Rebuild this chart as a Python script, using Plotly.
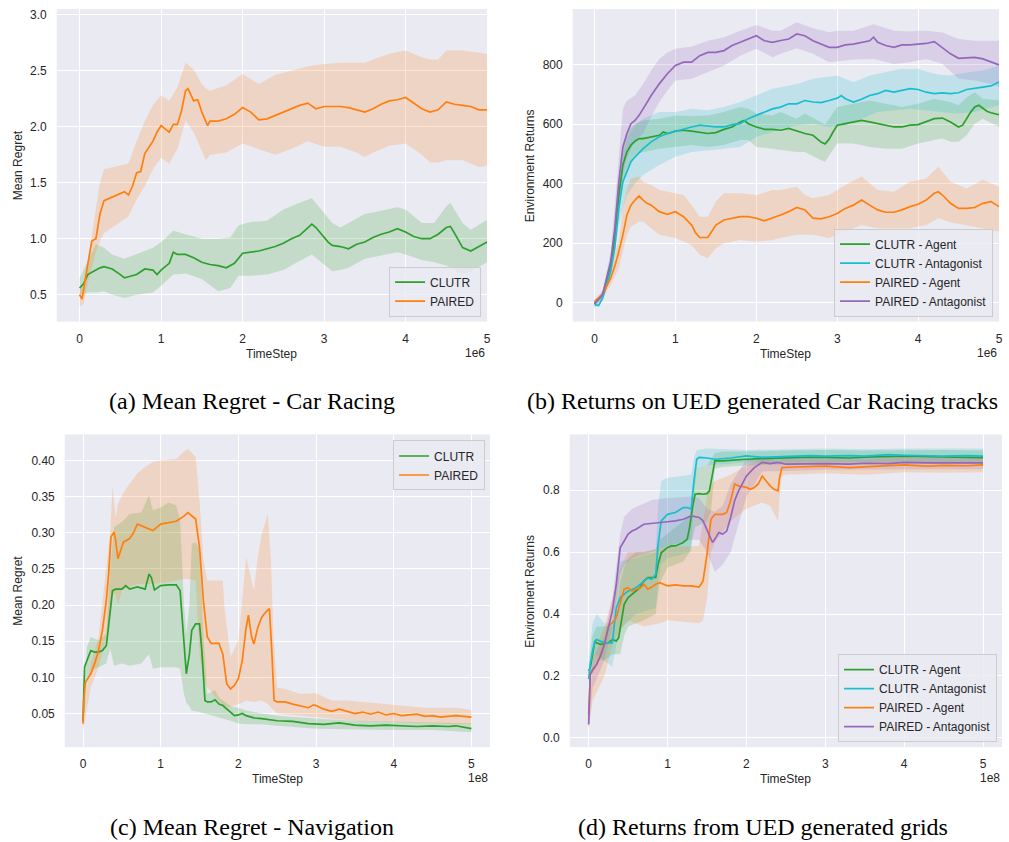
import plotly.graph_objects as go

# ---------------- Panel (a): Mean Regret - Car Racing (x in units of 1e6) ----------------
a_clutr_x = [0, 0.05, 0.1, 0.2, 0.25, 0.3, 0.4, 0.5, 0.55, 0.6, 0.7, 0.8, 0.9, 0.95, 1.0, 1.1, 1.15, 1.2, 1.3, 1.4,
             1.5, 1.6, 1.7, 1.8, 1.9, 2.0, 2.1, 2.2, 2.3, 2.4, 2.5, 2.6, 2.7, 2.8, 2.85, 2.9, 3.0, 3.05, 3.1, 3.2,
             3.3, 3.4, 3.5, 3.6, 3.7, 3.8, 3.9, 4.0, 4.1, 4.2, 4.3, 4.4, 4.5, 4.55, 4.6, 4.7, 4.8, 4.9, 5.0]
a_clutr_mean = [0.56, 0.6, 0.68, 0.72, 0.74, 0.75, 0.73, 0.68, 0.65, 0.66, 0.68, 0.73, 0.72, 0.68, 0.72, 0.78, 0.88, 0.86, 0.86, 0.83,
                0.79, 0.77, 0.76, 0.74, 0.78, 0.87, 0.88, 0.89, 0.91, 0.93, 0.96, 1.0, 1.03, 1.1, 1.13, 1.10, 1.01, 0.97, 0.94, 0.93,
                0.91, 0.95, 0.97, 1.01, 1.04, 1.06, 1.09, 1.06, 1.02, 1.0, 1.0, 1.04, 1.10, 1.11, 1.05, 0.92, 0.89, 0.93, 0.97]
a_clutr_band_x = [0, 0.1, 0.2, 0.3, 0.4, 0.55, 0.7, 0.9, 1.0, 1.15, 1.3, 1.5, 1.7, 1.85, 1.95, 2.1, 2.3, 2.5, 2.7, 2.85,
                  3.0, 3.1, 3.2, 3.3, 3.5, 3.7, 3.9, 4.0, 4.2, 4.35, 4.5, 4.55, 4.7, 4.8, 5.0]
a_clutr_upper = [0.65, 0.8, 0.95, 0.92, 0.86, 0.82, 0.86, 0.92, 0.97, 1.07, 1.04, 1.0, 1.0, 1.01, 1.12, 1.15, 1.16, 1.26, 1.32, 1.36,
                 1.23, 1.14, 1.1, 1.14, 1.22, 1.25, 1.28, 1.26, 1.14, 1.14, 1.29, 1.32, 1.14, 1.08, 1.17]
a_clutr_lower = [0.5, 0.52, 0.52, 0.53, 0.5, 0.47, 0.5, 0.52, 0.58, 0.68, 0.69, 0.64, 0.53, 0.56, 0.67, 0.67, 0.68, 0.72, 0.8, 0.86,
                 0.77, 0.71, 0.72, 0.74, 0.82, 0.85, 0.88, 0.86, 0.81, 0.79, 0.76, 0.74, 0.68, 0.71, 0.79]

a_paired_x = [0, 0.03, 0.1, 0.15, 0.2, 0.25, 0.3, 0.4, 0.5, 0.55, 0.6, 0.65, 0.7, 0.75, 0.8, 0.9, 0.95, 1.0, 1.05, 1.1,
              1.15, 1.2, 1.25, 1.3, 1.33, 1.4, 1.45, 1.5, 1.57, 1.6, 1.7, 1.8, 1.9, 2.0, 2.1, 2.2, 2.3, 2.4, 2.5, 2.6,
              2.7, 2.8, 2.9, 3.0, 3.1, 3.2, 3.3, 3.4, 3.5, 3.6, 3.7, 3.8, 3.9, 4.0, 4.1, 4.2, 4.3, 4.4, 4.5, 4.6,
              4.7, 4.8, 4.9, 5.0]
a_paired_mean = [0.5, 0.46, 0.77, 0.98, 1.0, 1.22, 1.34, 1.37, 1.4, 1.42, 1.39, 1.47, 1.59, 1.6, 1.76, 1.87, 1.95, 2.01, 1.98, 1.95,
                 2.02, 2.02, 2.14, 2.32, 2.34, 2.23, 2.24, 2.13, 2.01, 2.05, 2.05, 2.07, 2.11, 2.17, 2.13, 2.06, 2.07, 2.10, 2.13, 2.16,
                 2.19, 2.21, 2.16, 2.18, 2.18, 2.18, 2.17, 2.15, 2.13, 2.16, 2.2, 2.23, 2.24, 2.26, 2.21, 2.16, 2.13, 2.15, 2.22, 2.2,
                 2.19, 2.18, 2.15, 2.15]
a_paired_band_x = [0, 0.05, 0.1, 0.2, 0.25, 0.3, 0.5, 0.6, 0.7, 0.8, 0.9, 1.0, 1.1, 1.2, 1.3, 1.4, 1.5, 1.55, 1.6, 1.8,
                   2.0, 2.2, 2.4, 2.6, 2.8, 3.0, 3.2, 3.4, 3.5, 3.6, 3.8, 4.0, 4.2, 4.3, 4.4, 4.5, 4.7, 4.9, 5.0]
a_paired_upper = [0.55, 0.6, 0.8, 1.25, 1.5, 1.62, 1.65, 1.67, 1.87, 2.05, 2.19, 2.28, 2.23, 2.35, 2.57, 2.51, 2.38, 2.34, 2.32, 2.37,
                  2.47, 2.38, 2.46, 2.5, 2.54, 2.56, 2.57, 2.57, 2.57, 2.6, 2.65, 2.68, 2.62, 2.6, 2.6, 2.68, 2.68, 2.66, 2.65]
a_paired_lower = [0.39, 0.42, 0.6, 0.88, 0.98, 1.05, 1.15, 1.2, 1.35, 1.47, 1.62, 1.72, 1.67, 1.8, 2.05, 1.95, 1.78, 1.70, 1.75, 1.77,
                  1.85, 1.8, 1.75, 1.8, 1.87, 1.82, 1.82, 1.77, 1.73, 1.77, 1.83, 1.85, 1.75, 1.68, 1.68, 1.70, 1.70, 1.64, 1.65]

# ---------------- Panel (b): Returns on UED generated Car Racing tracks (x in 1e6) ----------------
b_cagent_x = [0, 0.1, 0.2, 0.25, 0.3, 0.35, 0.4, 0.45, 0.5, 0.55, 0.6, 0.7, 0.8, 0.85, 0.9, 1.0, 1.1, 1.2, 1.3, 1.4,
              1.5, 1.6, 1.7, 1.8, 1.85, 1.9, 2.0, 2.1, 2.2, 2.3, 2.4, 2.5, 2.6, 2.7, 2.75, 2.8, 2.85, 2.9, 2.95, 3.0,
              3.1, 3.2, 3.3, 3.4, 3.5, 3.6, 3.7, 3.8, 3.9, 4.0, 4.1, 4.2, 4.3, 4.4, 4.5, 4.55, 4.65, 4.7, 4.75, 4.85,
              4.9, 5.0]
b_cagent_mean = [-1, 27, 127, 217, 362, 463, 507, 530, 543, 552, 552, 558, 563, 574, 569, 577, 580, 577, 574, 569,
                 572, 583, 591, 608, 613, 602, 591, 583, 583, 580, 586, 577, 569, 563, 552, 540, 534, 550, 575, 597,
                 602, 608, 613, 608, 602, 597, 591, 591, 597, 599, 610, 619, 621, 608, 591, 597, 641, 658, 664, 644,
                 639, 632]
b_cagent_band_x = [0, 0.1, 0.2, 0.3, 0.35, 0.4, 0.5, 0.6, 0.8, 1.0, 1.2, 1.4, 1.6, 1.8, 1.9, 2.0, 2.2, 2.3, 2.5, 2.6,
                   2.8, 2.85, 2.9, 3.0, 3.2, 3.4, 3.6, 3.8, 4.0, 4.2, 4.3, 4.4, 4.5, 4.6, 4.7, 4.8, 5.0]
b_cagent_upper = [5, 35, 140, 390, 518, 574, 602, 613, 619, 630, 628, 630, 641, 658, 652, 636, 630, 641, 619, 636,
                  608, 600, 619, 658, 669, 680, 669, 658, 669, 686, 680, 675, 664, 690, 708, 686, 680]
b_cagent_lower = [-10, 20, 110, 330, 396, 451, 496, 507, 518, 524, 530, 524, 530, 547, 547, 524, 518, 513, 507, 507,
                  479, 474, 496, 535, 535, 524, 518, 518, 535, 547, 552, 541, 541, 563, 602, 619, 591]

b_cant_x = [0, 0.05, 0.1, 0.2, 0.25, 0.3, 0.35, 0.4, 0.45, 0.5, 0.6, 0.7, 0.8, 0.9, 1.0, 1.1, 1.2, 1.3, 1.4, 1.5,
            1.6, 1.7, 1.8, 1.9, 2.0, 2.1, 2.2, 2.3, 2.4, 2.5, 2.6, 2.7, 2.8, 2.9, 3.0, 3.05, 3.1, 3.2, 3.3, 3.4,
            3.5, 3.6, 3.7, 3.8, 3.9, 4.0, 4.1, 4.2, 4.3, 4.4, 4.5, 4.6, 4.7, 4.8, 4.9, 5.0]
b_cant_mean = [-7, -10, 16, 105, 183, 317, 407, 440, 474, 490, 518, 541, 558, 569, 577, 585, 591, 597, 593, 591,
               591, 599, 602, 619, 630, 641, 652, 658, 669, 669, 680, 675, 673, 680, 688, 697, 686, 675, 684, 697,
               703, 714, 708, 714, 720, 717, 708, 703, 706, 703, 706, 717, 720, 725, 729, 742]
b_cant_band_x = [0, 0.1, 0.2, 0.3, 0.35, 0.4, 0.5, 0.6, 0.8, 1.0, 1.2, 1.4, 1.6, 1.8, 2.0, 2.2, 2.3, 2.5, 2.7, 2.9,
                 3.0, 3.1, 3.2, 3.3, 3.4, 3.5, 3.6, 3.7, 3.8, 3.9, 4.0, 4.1, 4.2, 4.3, 4.4, 4.5, 4.6, 4.7, 4.8, 4.9,
                 5.0]
b_cant_upper = [-2, 25, 120, 370, 496, 552, 597, 619, 641, 641, 652, 647, 658, 675, 697, 720, 725, 736, 753, 759,
                764, 752, 742, 752, 764, 770, 775, 780, 787, 785, 787, 778, 770, 766, 764, 770, 775, 778, 781, 790,
                798]
b_cant_lower = [-18, 5, 90, 260, 317, 362, 401, 429, 463, 491, 507, 513, 518, 524, 558, 574, 585, 597, 602, 591,
                594, 597, 608, 619, 630, 641, 644, 647, 650, 652, 650, 647, 644, 641, 638, 636, 638, 641, 650, 658,
                664]

b_pagent_x = [0, 0.1, 0.2, 0.25, 0.3, 0.35, 0.4, 0.45, 0.5, 0.55, 0.6, 0.65, 0.7, 0.8, 0.9, 1.0, 1.1, 1.2, 1.25, 1.3,
              1.4, 1.45, 1.5, 1.6, 1.7, 1.8, 1.9, 2.0, 2.1, 2.2, 2.3, 2.4, 2.5, 2.6, 2.7, 2.8, 2.9, 3.0, 3.1, 3.2,
              3.3, 3.4, 3.5, 3.6, 3.7, 3.8, 3.9, 4.0, 4.1, 4.2, 4.25, 4.3, 4.4, 4.5, 4.6, 4.7, 4.8, 4.9, 5.0]
b_pagent_mean = [4, 27, 83, 122, 172, 228, 295, 328, 345, 359, 345, 334, 328, 306, 297, 306, 289, 261, 234, 219,
                 219, 239, 261, 278, 284, 289, 289, 284, 275, 284, 295, 306, 320, 312, 284, 282, 289, 300, 317, 328,
                 345, 328, 312, 304, 304, 312, 323, 331, 345, 368, 373, 362, 334, 317, 317, 320, 334, 340, 323]
b_pagent_band_x = [0, 0.1, 0.2, 0.3, 0.35, 0.4, 0.45, 0.55, 0.6, 0.7, 0.8, 1.0, 1.1, 1.2, 1.3, 1.4, 1.5, 1.6, 1.8, 2.0,
                   2.2, 2.3, 2.5, 2.6, 2.7, 2.9, 3.1, 3.3, 3.5, 3.7, 3.9, 4.1, 4.25, 4.4, 4.6, 4.8, 5.0]
b_pagent_upper = [10, 40, 110, 217, 317, 384, 418, 424, 407, 396, 379, 368, 362, 328, 289, 289, 340, 368, 368, 362,
                  379, 379, 390, 362, 351, 362, 396, 424, 379, 373, 407, 418, 457, 407, 384, 413, 390]
b_pagent_lower = [-5, 15, 60, 116, 172, 228, 255, 272, 272, 250, 228, 217, 205, 194, 161, 150, 183, 200, 211, 205,
                  211, 217, 228, 228, 228, 217, 239, 261, 250, 250, 250, 261, 284, 270, 261, 250, 239]

b_pant_x = [0, 0.1, 0.2, 0.25, 0.3, 0.35, 0.4, 0.45, 0.5, 0.55, 0.6, 0.7, 0.8, 0.9, 1.0, 1.1, 1.2, 1.3, 1.4, 1.5,
            1.6, 1.7, 1.8, 1.9, 2.0, 2.1, 2.2, 2.3, 2.4, 2.5, 2.6, 2.7, 2.8, 2.9, 3.0, 3.1, 3.2, 3.3, 3.4, 3.45,
            3.5, 3.6, 3.7, 3.8, 3.9, 4.0, 4.1, 4.2, 4.3, 4.4, 4.5, 4.6, 4.7, 4.8, 4.9, 5.0]
b_pant_mean = [-5, 27, 140, 250, 407, 524, 569, 602, 613, 630, 652, 697, 736, 770, 798, 809, 809, 831, 842, 842,
               848, 865, 876, 887, 898, 881, 876, 882, 887, 904, 898, 881, 870, 859, 859, 867, 870, 876, 881, 893,
               876, 865, 859, 867, 867, 870, 872, 878, 859, 837, 822, 823, 825, 820, 809, 800]
b_pant_band_x = [0, 0.1, 0.2, 0.3, 0.35, 0.4, 0.5, 0.6, 0.7, 0.8, 0.9, 1.0, 1.2, 1.4, 1.6, 1.8, 2.0, 2.2, 2.3, 2.5,
                 2.7, 2.9, 3.0, 3.2, 3.45, 3.7, 3.9, 4.0, 4.1, 4.3, 4.5, 4.7, 4.9, 5.0]
b_pant_upper = [5, 40, 170, 507, 652, 680, 697, 736, 781, 820, 842, 854, 862, 881, 893, 915, 934, 915, 915, 943,
                923, 910, 915, 915, 937, 915, 912, 915, 915, 909, 887, 881, 881, 881]
b_pant_lower = [-15, 15, 110, 295, 429, 485, 546, 569, 625, 675, 714, 747, 753, 775, 798, 831, 854, 826, 837, 856,
                837, 809, 812, 818, 820, 803, 809, 815, 820, 803, 753, 747, 736, 725]

# ---------------- Panel (c): Mean Regret - Navigation (x in 1e8) ----------------
c_clutr_x = [0, 0.02, 0.05, 0.1, 0.15, 0.2, 0.25, 0.3, 0.33, 0.38, 0.42, 0.5, 0.55, 0.6, 0.7, 0.8, 0.85, 0.88, 0.92, 1.0,
             1.1, 1.2, 1.25, 1.3, 1.33, 1.37, 1.4, 1.45, 1.5, 1.53, 1.57, 1.6, 1.65, 1.7, 1.75, 1.8, 1.85, 1.9, 1.95, 2.0,
             2.05, 2.1, 2.2, 2.3, 2.4, 2.5, 2.7, 2.9, 3.1, 3.3, 3.5, 3.7, 3.9, 4.1, 4.3, 4.5, 4.7, 4.8, 5.0]
c_clutr_mean = [0.04, 0.114, 0.123, 0.137, 0.135, 0.135, 0.137, 0.144, 0.172, 0.22, 0.222, 0.222, 0.227, 0.222, 0.225, 0.222, 0.243, 0.238, 0.221, 0.227,
                0.228, 0.228, 0.22, 0.151, 0.105, 0.132, 0.165, 0.174, 0.174, 0.137, 0.068, 0.066, 0.066, 0.069, 0.063, 0.061, 0.056, 0.052, 0.047, 0.048,
                0.05, 0.047, 0.044, 0.043, 0.041, 0.04, 0.039, 0.036, 0.035, 0.037, 0.034, 0.033, 0.034, 0.033, 0.032, 0.033, 0.032, 0.033, 0.029]
c_clutr_band_x = [0, 0.05, 0.1, 0.2, 0.3, 0.35, 0.4, 0.5, 0.6, 0.75, 0.85, 0.9, 1.0, 1.1, 1.2, 1.25, 1.3, 1.33, 1.37, 1.4,
                  1.45, 1.5, 1.55, 1.6, 1.7, 1.75, 1.8, 1.9, 2.0, 2.1, 2.3, 2.5, 3.0, 3.5, 4.0, 4.5, 5.0]
c_clutr_upper = [0.05, 0.142, 0.156, 0.151, 0.16, 0.252, 0.308, 0.315, 0.326, 0.328, 0.352, 0.331, 0.335, 0.342, 0.338, 0.317, 0.2, 0.16, 0.2, 0.285,
                 0.287, 0.278, 0.16, 0.077, 0.082, 0.072, 0.068, 0.06, 0.058, 0.054, 0.05, 0.047, 0.043, 0.04, 0.039, 0.038, 0.036]
c_clutr_lower = [0.03, 0.09, 0.11, 0.114, 0.119, 0.14, 0.116, 0.119, 0.116, 0.119, 0.132, 0.112, 0.114, 0.114, 0.114, 0.112, 0.077, 0.065, 0.06, 0.054,
                 0.053, 0.052, 0.051, 0.05, 0.047, 0.045, 0.043, 0.04, 0.036, 0.035, 0.035, 0.033, 0.029, 0.028, 0.027, 0.027, 0.024]

c_paired_x = [0, 0.01, 0.03, 0.1, 0.15, 0.2, 0.25, 0.3, 0.33, 0.36, 0.4, 0.42, 0.45, 0.48, 0.52, 0.6, 0.65, 0.7, 0.8, 0.9,
              1.0, 1.1, 1.2, 1.3, 1.35, 1.45, 1.5, 1.55, 1.6, 1.65, 1.75, 1.8, 1.85, 1.9, 1.95, 2.0, 2.05, 2.1, 2.13, 2.17,
              2.2, 2.25, 2.3, 2.35, 2.4, 2.43, 2.46, 2.5, 2.6, 2.7, 2.8, 2.9, 2.97, 3.0, 3.1, 3.2, 3.3, 3.4, 3.5, 3.6,
              3.7, 3.8, 3.9, 4.0, 4.1, 4.2, 4.3, 4.4, 4.5, 4.6, 4.7, 4.8, 4.9, 5.0]
c_paired_mean = [0.036, 0.068, 0.093, 0.105, 0.119, 0.137, 0.165, 0.206, 0.243, 0.294, 0.301, 0.29, 0.264, 0.273, 0.287, 0.292, 0.3, 0.312, 0.308, 0.303,
                 0.312, 0.314, 0.316, 0.323, 0.328, 0.319, 0.28, 0.206, 0.156, 0.147, 0.147, 0.132, 0.091, 0.084, 0.089, 0.098, 0.123, 0.169, 0.186, 0.156,
                 0.146, 0.169, 0.183, 0.19, 0.195, 0.137, 0.068, 0.066, 0.066, 0.063, 0.061, 0.058, 0.062, 0.061, 0.056, 0.053, 0.056, 0.053, 0.05, 0.052,
                 0.049, 0.052, 0.048, 0.05, 0.047, 0.048, 0.049, 0.046, 0.047, 0.045, 0.046, 0.047, 0.046, 0.045]
c_paired_band_x = [0, 0.1, 0.2, 0.3, 0.35, 0.38, 0.42, 0.45, 0.5, 0.6, 0.7, 0.8, 0.9, 1.0, 1.1, 1.2, 1.3, 1.35, 1.45, 1.5,
                   1.55, 1.6, 1.8, 1.82, 1.9, 2.0, 2.05, 2.1, 2.15, 2.2, 2.25, 2.3, 2.38, 2.42, 2.45, 2.5, 2.6, 2.8, 3.0, 3.2,
                   3.4, 3.6, 3.8, 4.0, 4.2, 4.4, 4.6, 4.8, 5.0]
c_paired_upper = [0.05, 0.119, 0.156, 0.252, 0.30, 0.365, 0.32, 0.34, 0.352, 0.368, 0.382, 0.391, 0.398, 0.4, 0.401, 0.402, 0.412, 0.416, 0.405, 0.345,
                  0.262, 0.234, 0.234, 0.197, 0.128, 0.151, 0.206, 0.266, 0.243, 0.22, 0.266, 0.298, 0.326, 0.262, 0.16, 0.086, 0.084, 0.077, 0.078, 0.068,
                  0.068, 0.066, 0.064, 0.063, 0.061, 0.058, 0.058, 0.058, 0.055]
c_paired_lower = [0.026, 0.086, 0.114, 0.156, 0.19, 0.215, 0.215, 0.2, 0.22, 0.225, 0.229, 0.229, 0.229, 0.23, 0.232, 0.234, 0.236, 0.236, 0.234, 0.132,
                  0.1, 0.086, 0.061, 0.06, 0.059, 0.063, 0.065, 0.068, 0.067, 0.066, 0.067, 0.068, 0.063, 0.059, 0.055, 0.05, 0.05, 0.048, 0.045, 0.043,
                  0.041, 0.039, 0.039, 0.039, 0.038, 0.037, 0.036, 0.035, 0.035]

# ---------------- Panel (d): Returns from UED generated grids (x in 1e8) ----------------
d_cagent_x = [0, 0.02, 0.05, 0.08, 0.1, 0.15, 0.2, 0.25, 0.3, 0.35, 0.38, 0.4, 0.45, 0.5, 0.55, 0.6, 0.65, 0.7, 0.75, 0.8,
              0.85, 0.88, 0.92, 1.0, 1.05, 1.1, 1.15, 1.2, 1.25, 1.28, 1.32, 1.35, 1.4, 1.45, 1.5, 1.53, 1.57, 1.6, 1.7, 1.8,
              2.0, 2.2, 2.5, 2.8, 3.0, 3.3, 3.5, 3.8, 4.0, 4.3, 4.5, 4.8, 5.0]
d_cagent_mean = [0.216, 0.226, 0.27, 0.313, 0.307, 0.302, 0.304, 0.307, 0.318, 0.313, 0.323, 0.356, 0.431, 0.453, 0.464, 0.474, 0.485, 0.507, 0.518, 0.518,
                 0.518, 0.56, 0.598, 0.615, 0.62, 0.62, 0.625, 0.631, 0.642, 0.68, 0.75, 0.787, 0.789, 0.787, 0.789, 0.798, 0.852, 0.895, 0.895, 0.897,
                 0.9, 0.902, 0.905, 0.907, 0.906, 0.904, 0.907, 0.909, 0.91, 0.908, 0.907, 0.906, 0.905]
d_cagent_band_x = [0, 0.05, 0.1, 0.2, 0.3, 0.35, 0.4, 0.45, 0.5, 0.6, 0.7, 0.85, 0.9, 1.0, 1.2, 1.28, 1.35, 1.5, 1.55, 1.6,
                   1.7, 2.0, 2.5, 3.0, 3.5, 4.0, 4.5, 5.0]
d_cagent_upper = [0.22, 0.33, 0.36, 0.36, 0.36, 0.4, 0.5, 0.55, 0.58, 0.6, 0.6, 0.61, 0.64, 0.66, 0.7, 0.72, 0.87, 0.88, 0.9, 0.92,
                  0.925, 0.925, 0.928, 0.93, 0.928, 0.93, 0.93, 0.928]
d_cagent_lower = [0.17, 0.22, 0.25, 0.25, 0.27, 0.27, 0.27, 0.33, 0.36, 0.37, 0.38, 0.4, 0.5, 0.55, 0.57, 0.6, 0.68, 0.7, 0.73, 0.87,
                  0.875, 0.88, 0.883, 0.885, 0.883, 0.886, 0.885, 0.884]

d_cant_x = [0, 0.02, 0.05, 0.08, 0.1, 0.15, 0.2, 0.25, 0.3, 0.33, 0.35, 0.4, 0.45, 0.5, 0.6, 0.7, 0.75, 0.8, 0.85, 0.88,
            0.92, 1.0, 1.1, 1.2, 1.25, 1.3, 1.33, 1.37, 1.4, 1.5, 1.6, 1.8, 2.0, 2.2, 2.5, 2.8, 3.0, 3.3, 3.5, 3.8,
            4.0, 4.3, 4.5, 4.8, 5.0]
d_cant_mean = [0.19, 0.237, 0.28, 0.313, 0.318, 0.313, 0.307, 0.307, 0.307, 0.377, 0.42, 0.453, 0.464, 0.474, 0.485, 0.507, 0.516, 0.512, 0.528, 0.625,
               0.701, 0.722, 0.728, 0.744, 0.744, 0.739, 0.82, 0.9, 0.906, 0.904, 0.9, 0.904, 0.911, 0.906, 0.91, 0.912, 0.91, 0.912, 0.91, 0.915,
               0.913, 0.912, 0.91, 0.912, 0.91]
d_cant_band_x = [0, 0.05, 0.1, 0.2, 0.3, 0.35, 0.4, 0.6, 0.85, 0.88, 0.92, 1.0, 1.3, 1.33, 1.37, 1.5, 2.0, 2.5, 3.0, 3.5,
                 4.0, 4.5, 5.0]
d_cant_upper = [0.25, 0.37, 0.4, 0.37, 0.37, 0.52, 0.57, 0.58, 0.6, 0.75, 0.83, 0.84, 0.85, 0.9, 0.93, 0.935, 0.93, 0.932, 0.935, 0.932,
                0.935, 0.935, 0.935]
d_cant_lower = [0.15, 0.25, 0.27, 0.25, 0.23, 0.3, 0.35, 0.4, 0.42, 0.5, 0.56, 0.58, 0.6, 0.75, 0.87, 0.88, 0.89, 0.89, 0.89, 0.89,
                0.892, 0.89, 0.888]

d_pagent_x = [0, 0.02, 0.05, 0.1, 0.15, 0.2, 0.25, 0.3, 0.35, 0.4, 0.45, 0.5, 0.55, 0.6, 0.65, 0.7, 0.75, 0.8, 0.85, 0.9,
              1.0, 1.1, 1.2, 1.3, 1.4, 1.45, 1.5, 1.55, 1.6, 1.7, 1.75, 1.8, 1.85, 1.9, 1.95, 2.0, 2.05, 2.1, 2.15, 2.2,
              2.25, 2.3, 2.35, 2.4, 2.42, 2.45, 2.6, 2.8, 3.0, 3.3, 3.5, 3.8, 4.0, 4.3, 4.5, 4.8, 5.0]
d_pagent_mean = [0.075, 0.205, 0.216, 0.237, 0.27, 0.302, 0.361, 0.372, 0.388, 0.431, 0.48, 0.485, 0.474, 0.48, 0.483, 0.496, 0.48, 0.487, 0.496, 0.501,
                 0.491, 0.494, 0.491, 0.491, 0.487, 0.507, 0.593, 0.706, 0.722, 0.722, 0.728, 0.766, 0.82, 0.814, 0.811, 0.809, 0.803, 0.809, 0.82, 0.846,
                 0.83, 0.814, 0.803, 0.798, 0.84, 0.873, 0.875, 0.877, 0.878, 0.873, 0.876, 0.879, 0.882, 0.878, 0.88, 0.879, 0.882]
d_pagent_band_x = [0, 0.05, 0.1, 0.2, 0.3, 0.4, 0.5, 0.7, 0.9, 1.0, 1.4, 1.45, 1.5, 1.55, 1.6, 1.8, 2.0, 2.2, 2.3, 2.4,
                   2.42, 2.45, 2.5, 3.0, 3.5, 4.0, 4.5, 5.0]
d_pagent_upper = [0.1, 0.25, 0.3, 0.36, 0.45, 0.55, 0.6, 0.6, 0.61, 0.617, 0.62, 0.7, 0.78, 0.82, 0.83, 0.85, 0.88, 0.9, 0.9, 0.89,
                  0.89, 0.9, 0.9, 0.9, 0.9, 0.905, 0.905, 0.905]
d_pagent_lower = [0.03, 0.12, 0.15, 0.2, 0.3, 0.35, 0.38, 0.36, 0.37, 0.38, 0.37, 0.38, 0.45, 0.6, 0.63, 0.7, 0.74, 0.76, 0.75, 0.7,
                  0.78, 0.845, 0.85, 0.855, 0.85, 0.858, 0.856, 0.858]

d_pant_x = [0, 0.02, 0.05, 0.1, 0.15, 0.2, 0.25, 0.3, 0.35, 0.38, 0.4, 0.45, 0.5, 0.55, 0.6, 0.7, 0.8, 0.9, 1.0, 1.1,
            1.2, 1.3, 1.4, 1.45, 1.5, 1.55, 1.57, 1.6, 1.65, 1.7, 1.75, 1.8, 1.85, 1.9, 1.95, 2.0, 2.1, 2.2, 2.3, 2.4,
            2.5, 2.8, 3.0, 3.3, 3.5, 3.8, 4.0, 4.3, 4.5, 4.8, 5.0]
d_pant_mean = [0.043, 0.205, 0.221, 0.237, 0.264, 0.302, 0.356, 0.41, 0.496, 0.582, 0.615, 0.636, 0.658, 0.668, 0.674, 0.69, 0.692, 0.695, 0.698, 0.701,
               0.706, 0.717, 0.712, 0.701, 0.674, 0.647, 0.631, 0.642, 0.663, 0.658, 0.668, 0.712, 0.766, 0.798, 0.82, 0.846, 0.873, 0.89, 0.886, 0.89,
               0.884, 0.886, 0.886, 0.884, 0.887, 0.886, 0.89, 0.888, 0.888, 0.887, 0.888]
d_pant_band_x = [0, 0.05, 0.1, 0.2, 0.3, 0.35, 0.4, 0.45, 0.55, 0.8, 1.0, 1.3, 1.4, 1.5, 1.6, 1.7, 1.8, 2.0, 2.2, 2.5,
                 3.0, 3.5, 4.0, 4.5, 5.0]
d_pant_upper = [0.07, 0.25, 0.28, 0.33, 0.45, 0.55, 0.66, 0.714, 0.74, 0.768, 0.775, 0.78, 0.775, 0.74, 0.73, 0.75, 0.82, 0.9, 0.91, 0.905,
                0.905, 0.905, 0.908, 0.905, 0.905]
d_pant_lower = [0.02, 0.16, 0.19, 0.25, 0.36, 0.44, 0.53, 0.56, 0.58, 0.6, 0.62, 0.64, 0.64, 0.6, 0.536, 0.56, 0.6, 0.78, 0.86, 0.862,
                0.866, 0.866, 0.868, 0.868, 0.868]

# ---------------- labels ----------------
two_series = ["CLUTR", "PAIRED"]
four_series = ["CLUTR - Agent", "CLUTR - Antagonist", "PAIRED - Agent", "PAIRED - Antagonist"]
captions = ["(a) Mean Regret - Car Racing", "(b) Returns on UED generated Car Racing tracks",
            "(c) Mean Regret - Navigation", "(d) Returns from UED generated grids"]
x_ticks = [0, 1, 2, 3, 4, 5]

GREEN, CYAN, ORANGE, PURPLE = "#2ca02c", "#17becf", "#ff7f0e", "#9467bd"
FILLS = {GREEN: "rgba(44,160,44,0.2)", CYAN: "rgba(23,190,207,0.2)",
         ORANGE: "rgba(255,127,14,0.2)", PURPLE: "rgba(148,103,189,0.2)"}

W, H = 1009, 842
SANS = "Liberation Sans, Arial, sans-serif"
SERIF = "Liberation Serif, Times New Roman, serif"
TXT = "#262626"

fig = go.Figure()

panels = [
    ("", "legend", [
        (two_series[0], GREEN, a_clutr_x, a_clutr_mean, a_clutr_band_x, a_clutr_upper, a_clutr_lower),
        (two_series[1], ORANGE, a_paired_x, a_paired_mean, a_paired_band_x, a_paired_upper, a_paired_lower)]),
    ("2", "legend2", [
        (four_series[0], GREEN, b_cagent_x, b_cagent_mean, b_cagent_band_x, b_cagent_upper, b_cagent_lower),
        (four_series[1], CYAN, b_cant_x, b_cant_mean, b_cant_band_x, b_cant_upper, b_cant_lower),
        (four_series[2], ORANGE, b_pagent_x, b_pagent_mean, b_pagent_band_x, b_pagent_upper, b_pagent_lower),
        (four_series[3], PURPLE, b_pant_x, b_pant_mean, b_pant_band_x, b_pant_upper, b_pant_lower)]),
    ("3", "legend3", [
        (two_series[0], GREEN, c_clutr_x, c_clutr_mean, c_clutr_band_x, c_clutr_upper, c_clutr_lower),
        (two_series[1], ORANGE, c_paired_x, c_paired_mean, c_paired_band_x, c_paired_upper, c_paired_lower)]),
    ("4", "legend4", [
        (four_series[0], GREEN, d_cagent_x, d_cagent_mean, d_cagent_band_x, d_cagent_upper, d_cagent_lower),
        (four_series[1], CYAN, d_cant_x, d_cant_mean, d_cant_band_x, d_cant_upper, d_cant_lower),
        (four_series[2], ORANGE, d_pagent_x, d_pagent_mean, d_pagent_band_x, d_pagent_upper, d_pagent_lower),
        (four_series[3], PURPLE, d_pant_x, d_pant_mean, d_pant_band_x, d_pant_upper, d_pant_lower)]),
]

for suffix, leg, series in panels:
    xa, ya = "x" + suffix, "y" + suffix
    for name, col, x, m, bx, up, lo in series:
        fig.add_trace(go.Scatter(
            x=list(bx) + list(bx)[::-1], y=list(up) + list(lo)[::-1],
            fill="toself", fillcolor=FILLS[col], line=dict(width=0), mode="lines",
            hoverinfo="skip", showlegend=False, xaxis=xa, yaxis=ya))
    for name, col, x, m, bx, up, lo in series:
        fig.add_trace(go.Scatter(
            x=x, y=m, mode="lines", name=name, line=dict(color=col, width=1.7),
            legend=leg, xaxis=xa, yaxis=ya))

boxes = [(57, 489, 8, 321), (575, 1003, 8, 321), (65, 492, 434, 747), (572, 1006, 434, 747)]
xranges = [[-0.28, 5.0], [-0.27, 5.0], [-0.235, 5.24], [-0.24, 5.24]]
yranges = [[0.26, 3.05], [-64, 988], [0.0035, 0.436], [-0.03, 0.98]]
yticks = [[0.5, 1.0, 1.5, 2.0, 2.5, 3.0], [0, 200, 400, 600, 800],
          [0.05, 0.10, 0.15, 0.20, 0.25, 0.30, 0.35, 0.40], [0.0, 0.2, 0.4, 0.6, 0.8]]
yfmt = [".1f", "d", ".2f", ".1f"]
ytitles = ["Mean Regret", "Environment Returns", "Mean Regret", "Environment Returns"]
exps = ["1e6", "1e6", "1e8", "1e8"]

layout = dict(width=W, height=H, margin=dict(l=0, r=0, t=0, b=0),
              paper_bgcolor="white", plot_bgcolor="#EAEAF2",
              font=dict(family=SANS, size=12, color=TXT))
annotations = []
for i, (l, r, t, b) in enumerate(boxes):
    s = "" if i == 0 else str(i + 1)
    layout["xaxis" + s] = dict(
        domain=[l / W, r / W], anchor="y" + s, range=xranges[i],
        tickvals=x_ticks, ticks="", showline=False, zeroline=False,
        gridcolor="white", gridwidth=1.3, ticklabelstandoff=8,
        tickfont=dict(family=SANS, size=12, color=TXT))
    layout["yaxis" + s] = dict(
        domain=[1 - b / H, 1 - t / H], anchor="x" + s, range=yranges[i],
        tickvals=yticks[i], tickformat=yfmt[i], ticks="", showline=False, zeroline=False,
        gridcolor="white", gridwidth=1.3, ticklabelstandoff=9,
        tickfont=dict(family=SANS, size=12, color=TXT))
    cx = (l + r) / 2
    annotations.append(dict(text="TimeStep", x=cx / W, y=1 - (b + 32) / H, xref="paper", yref="paper",
                            showarrow=False, font=dict(family=SANS, size=12, color=TXT),
                            xanchor="center", yanchor="middle"))
    annotations.append(dict(text=exps[i], x=r / W, y=1 - (b + 31) / H, xref="paper", yref="paper",
                            showarrow=False, font=dict(family=SANS, size=12, color=TXT),
                            xanchor="right", yanchor="middle"))
    ytx = 18 if i % 2 == 0 else 532
    annotations.append(dict(text=ytitles[i], x=ytx / W, y=1 - ((t + b) / 2) / H, xref="paper", yref="paper",
                            showarrow=False, textangle=-90, font=dict(family=SANS, size=12, color=TXT),
                            xanchor="center", yanchor="middle"))

cap_pos = [(253, 400), (766, 400), (253, 827), (766, 827)]
for (cx, cy), txt in zip(cap_pos, captions):
    annotations.append(dict(text=txt, x=cx / W, y=1 - cy / H, xref="paper", yref="paper", showarrow=False,
                            font=dict(family=SERIF, size=24, color="black"),
                            xanchor="center", yanchor="middle"))
layout["annotations"] = annotations

leg_style = dict(bgcolor="rgba(234,234,242,0.8)", bordercolor="#cccccc", borderwidth=1,
                 font=dict(family=SANS, size=12, color=TXT), itemwidth=30,
                 tracegroupgap=0)
layout["legend"] = dict(x=483 / W, y=1 - 316 / H, xanchor="right", yanchor="bottom", **leg_style)
layout["legend2"] = dict(x=997 / W, y=1 - 316 / H, xanchor="right", yanchor="bottom", **leg_style)
layout["legend3"] = dict(x=487 / W, y=1 - 440 / H, xanchor="right", yanchor="top", **leg_style)
layout["legend4"] = dict(x=1001 / W, y=1 - 742 / H, xanchor="right", yanchor="bottom", **leg_style)

fig.update_layout(**layout)
fig.write_html("out.html", config={"displayModeBar": False},
               post_script="document.body.style.margin='0';document.body.style.overflow='hidden';")
